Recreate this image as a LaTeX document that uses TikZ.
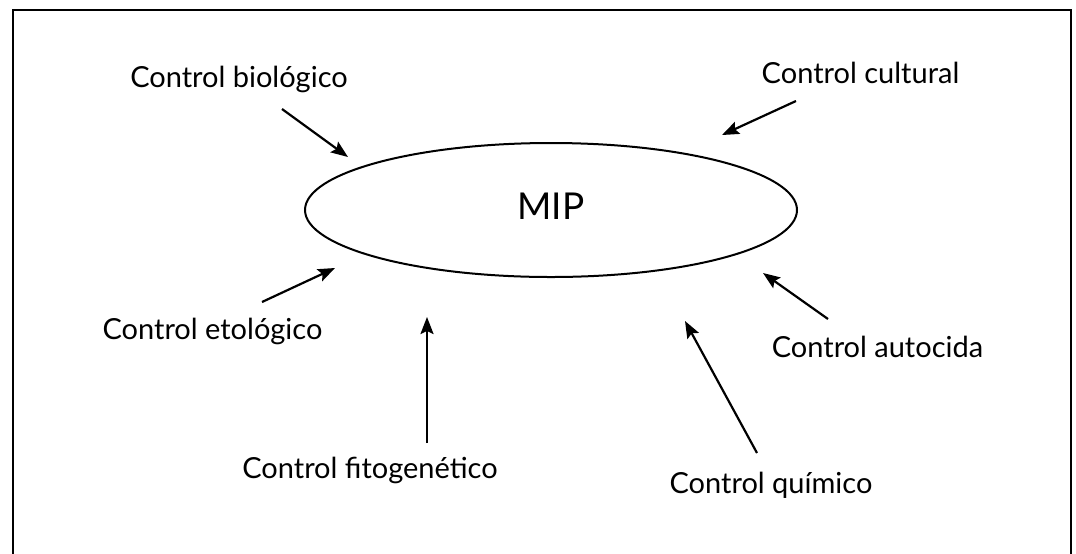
\documentclass[tikz,border=0pt]{standalone}
\usepackage{fontspec}
\setmainfont{Lato}
\usetikzlibrary{shapes.geometric,arrows.meta}

\begin{document}
\begin{tikzpicture}[x=0.5pt, y=-0.5pt,
    lbl/.style={font=\fontsize{14.5}{17}\selectfont, inner sep=0pt, anchor=base},
    arr/.style={-{Stealth[length=8.5pt, width=6.5pt, inset=1.5pt]}, line width=1.1pt},
    frame/.style={line width=1pt}]
	\useasboundingbox (0,0) rectangle (1076,553);
	% open frame, no bottom edge
	\draw[frame] (12.5,560) -- (12.5,9.5) -- (1071,9.5) -- (1071,560);
	% centre
	\node[ellipse, draw, line width=1pt, minimum width=246pt, minimum height=67pt, inner sep=0pt,
	      text depth=4pt, font=\fontsize{18.5}{22}\selectfont] (mip) at (551,210) {MIP};
	% labels
	\node[lbl] (biol) at (239,87) {Control biológico};
	\node[lbl] (cult) at (860.5,83) {Control cultural};
	\node[lbl] (etol) at (212.5,339) {Control etológico};
	\node[lbl] (fito) at (370,478) {Control fitogenético};
	\node[lbl] (auto) at (877.5,357) {Control autocida};
	\node[lbl] (quim) at (771,493) {Control químico};
	% arrows towards the ellipse
	\foreach \n/\tx/\ty/\hx/\hy in {biol/282/109/348/157, cult/796/101/722/135,
	    etol/262/302/335/268, fito/427/443/427/317, quim/757/453/685/321, auto/828/319/763/273}
	{
		\coordinate (\n-t) at (\tx,\ty);
		\coordinate (\n-h) at (\hx,\hy);
		\draw[arr] (\n-t) -- (\n-h);
	}
\end{tikzpicture}
\end{document}
